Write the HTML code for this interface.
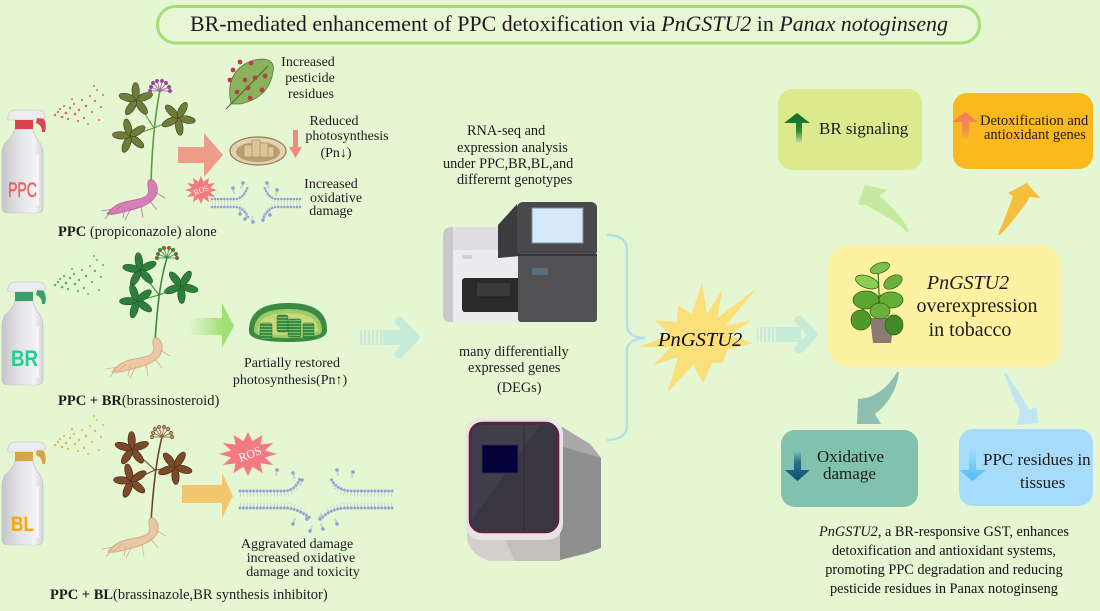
<!DOCTYPE html>
<html><head><meta charset="utf-8"><title>BR-mediated enhancement of PPC detoxification</title>
<style>
html,body{margin:0;padding:0;background:#e5f6d3;width:1100px;height:611px;overflow:hidden}
svg{display:block}
text{font-family:"Liberation Serif","DejaVu Serif",serif;fill:#1c1c1c}
.sans{font-family:"Liberation Sans","DejaVu Sans",sans-serif}
</style></head><body>
<svg xmlns="http://www.w3.org/2000/svg" width="1100" height="611" viewBox="0 0 1100 611">
<defs>
<linearGradient id="bg1" x1="0" x2="1" y1="0" y2="0"><stop offset="0" stop-color="#c6c6ca"/><stop offset=".35" stop-color="#e0e0e3"/><stop offset=".8" stop-color="#f2f2f4"/><stop offset="1" stop-color="#d4d4d7"/></linearGradient>
<linearGradient id="gA" x1="0" x2="1" y1="0" y2="0"><stop offset="0" stop-color="#a8e27c" stop-opacity="0"/><stop offset="1" stop-color="#a2df74"/></linearGradient>
<linearGradient id="upG" x1="0" x2="0" y1="0" y2="1"><stop offset="0" stop-color="#0e6a22"/><stop offset=".6" stop-color="#2a8a36"/><stop offset="1" stop-color="#cfe6a0"/></linearGradient>
<linearGradient id="upO" x1="0" x2="0" y1="0" y2="1"><stop offset="0" stop-color="#f4785a"/><stop offset=".6" stop-color="#f59048"/><stop offset="1" stop-color="#fbc02a"/></linearGradient>
<linearGradient id="dnB" x1="0" x2="0" y1="0" y2="1"><stop offset="0" stop-color="#8cc4c0"/><stop offset=".4" stop-color="#2a6e8e"/><stop offset="1" stop-color="#0e4e74"/></linearGradient>
<linearGradient id="dnL" x1="0" x2="0" y1="0" y2="1"><stop offset="0" stop-color="#a6dcfa"/><stop offset="1" stop-color="#4ebcf4"/></linearGradient>
<pattern id="stripes" width="4" height="10" patternUnits="userSpaceOnUse"><rect width="2.2" height="10" fill="#c6ecd8"/></pattern>
<pattern id="grana" width="10" height="3" patternUnits="userSpaceOnUse"><rect width="10" height="3" fill="#3b8c44"/><rect y="2.2" width="10" height=".8" fill="#8cc870"/></pattern>

<g id="bottle">
 <path d="M15,21 L33,21 Q35,30 40,35 Q43,39 43,46 L43,99 Q43,105 37,105 L8,105 Q2,105 2,99 L2,46 Q2,39 5,35 Q12,30 15,21 Z" fill="url(#bg1)" stroke="#bdbdc2" stroke-width=".6"/>
 <rect x="36" y="47" width="3" height="50" fill="#ffffff" opacity=".6"/>
 <path d="M8,12 Q7,3 15,2 L38,2 Q44,2 45,6 L45,10 L40,10 L38,12 Z" fill="#ececee" stroke="#c0c0c4" stroke-width=".6"/>
 <rect x="15" y="12" width="18" height="9"/>
 <path d="M37,10 L44,11 Q47,18 45,24 L42,24 Q42,17 36,15 Z"/>
</g>

<g id="pal">
 <ellipse cx="9" cy="0" rx="8.5" ry="3.7"/>
 <ellipse cx="9" cy="0" rx="8.5" ry="3.7" transform="rotate(72)"/>
 <ellipse cx="9" cy="0" rx="8.5" ry="3.7" transform="rotate(144)"/>
 <ellipse cx="9" cy="0" rx="8.5" ry="3.7" transform="rotate(216)"/>
 <ellipse cx="9" cy="0" rx="8.5" ry="3.7" transform="rotate(288)"/>
</g>

<g id="umb">
 <path d="M0,0 L-9,-4 M0,0 L-7,-8 M0,0 L-3,-10 M0,0 L2,-10 M0,0 L6,-8 M0,0 L9,-4 M0,0 L-10,0 M0,0 L10,0" fill="none" stroke-width=".8"/>
 <circle cx="-9" cy="-4" r="1.6"/><circle cx="-7" cy="-8" r="1.6"/><circle cx="-3" cy="-10" r="1.6"/><circle cx="2" cy="-10" r="1.6"/><circle cx="6" cy="-8" r="1.6"/><circle cx="9" cy="-4" r="1.6"/><circle cx="-10" cy="0" r="1.6"/><circle cx="10" cy="0" r="1.6"/>
</g>

<g id="root">
 <path d="M-2,0 C-6,6 2,12 -6,17 C-14,21 -24,20 -32,24 C-38,27 -42,31 -44,34 C-36,35 -28,32 -20,30 C-8,27 4,22 6,12 C7,6 4,2 2,0 Z"/>
 <path d="M-30,26 l-10,9 M-20,28 l-6,12 M-38,29 l-12,2 M-10,26 l2,12 M4,12 l10,6 M-2,20 l8,10 M-26,28 l-2,10 M-40,31 l-6,8" fill="none" stroke-width=".8"/>
</g>

<g id="spray">
 <circle cx="55" cy="115" r="1.3"/><circle cx="58" cy="112" r="1.2"/><circle cx="62" cy="117" r="1.3"/><circle cx="60" cy="109" r="1.1"/><circle cx="66" cy="113" r="1.4"/><circle cx="70" cy="108" r="1.2"/><circle cx="68" cy="119" r="1.2"/><circle cx="74" cy="104" r="1.1"/><circle cx="75" cy="114" r="1.3"/><circle cx="79" cy="110" r="1.2"/><circle cx="82" cy="100" r="1.1"/><circle cx="84" cy="118" r="1.2"/><circle cx="86" cy="106" r="1.3"/><circle cx="90" cy="96" r="1"/><circle cx="92" cy="112" r="1.1"/><circle cx="95" cy="101" r="1.2"/><circle cx="97" cy="90" r="1"/><circle cx="99" cy="120" r="1"/><circle cx="101" cy="107" r="1.1"/><circle cx="88" cy="124" r="1"/><circle cx="78" cy="121" r="1.1"/><circle cx="103" cy="95" r="1"/><circle cx="72" cy="99" r="1"/><circle cx="94" cy="86" r="1"/><circle cx="64" cy="106" r="1.1"/>
</g>

<polygon id="star12" points="100,0 58,15.5 86.6,50 42.4,42.4 50,86.6 15.5,58 0,100 -15.5,58 -50,86.6 -42.4,42.4 -86.6,50 -58,15.5 -100,0 -58,-15.5 -86.6,-50 -42.4,-42.4 -50,-86.6 -15.5,-58 0,-100 15.5,-58 50,-86.6 42.4,-42.4 86.6,-50 58,-15.5"/>

<g id="lip"><circle r="1.8" fill="#93a2d0"/><path d="M-.6,1.6 v4.5 M.6,1.6 v4.5" stroke="#a6b2dc" stroke-width=".5"/></g>
</defs>

<rect width="1100" height="611" fill="#e5f6d3"/>

<!-- Title -->
<rect x="157.5" y="6.5" width="822" height="36.5" rx="18" fill="#e7f7d6" stroke="#a4de74" stroke-width="3"/>
<text x="190" y="31" font-size="22" textLength="758" lengthAdjust="spacingAndGlyphs">BR-mediated enhancement of PPC detoxification via <tspan font-style="italic">PnGSTU2</tspan> in <tspan font-style="italic">Panax notoginseng</tspan></text>

<!-- ========== Row 1 ========== -->
<use href="#bottle" transform="translate(0,108)" fill="#d8454e"/>
<text class="sans" x="8" y="197" font-size="21" style="fill:#f25e5e;stroke:#f25e5e;stroke-width:.5" textLength="29" lengthAdjust="spacingAndGlyphs">PPC</text>
<use href="#spray" fill="#e36a6a"/>
<!-- plant 1 -->
<path d="M151,182 C152,150 155,115 160,90" fill="none" stroke="#5f9a3c" stroke-width="1.6"/>
<path d="M154,128 L136,100 M154,128 L178,118 M154,128 L130,136" fill="none" stroke="#5f9a3c" stroke-width="1.1"/>
<use href="#pal" transform="translate(136,100) rotate(-20)" fill="#6f7c3a" stroke="#38431d" stroke-width=".6"/>
<use href="#pal" transform="translate(178,118) rotate(10)" fill="#6f7c3a" stroke="#38431d" stroke-width=".6"/>
<use href="#pal" transform="translate(130,136) rotate(40)" fill="#6f7c3a" stroke="#38431d" stroke-width=".6"/>
<use href="#umb" transform="translate(160,91)" fill="#a23aa8" stroke="#9a5aa0"/>
<use href="#root" transform="translate(151,180)" fill="#d581b8" stroke="#c46aa6"/>
<!-- leaf with residues -->
<path d="M231,104 Q224,70 254,60 Q276,56 273,72 Q269,98 240,104 Z" fill="#8bb35c" stroke="#5a7a3a" stroke-width=".8"/>
<path d="M226,109 L268,66" stroke="#4a6a30" stroke-width="1.1"/>
<g fill="#b2414a"><circle cx="240" cy="62" r="2.4"/><circle cx="251" cy="63" r="2.4"/><circle cx="233" cy="70" r="2.4"/><circle cx="230" cy="80" r="2.4"/><circle cx="245" cy="80" r="2.4"/><circle cx="255" cy="78" r="2.4"/><circle cx="265" cy="76" r="2.4"/><circle cx="248" cy="88" r="2.4"/><circle cx="262" cy="90" r="2.4"/><circle cx="237" cy="92" r="2.4"/><circle cx="250" cy="98" r="2.4"/></g>
<text font-size="14" text-anchor="middle"><tspan x="308" y="66">Increased</tspan><tspan x="310" y="82">pesticide</tspan><tspan x="311" y="98">residues</tspan></text>
<!-- salmon arrow -->
<polygon points="178,147 204,147 204,133 223,155 204,177 204,163 178,163" fill="#ee9c8a"/>
<!-- brown chloroplast -->
<ellipse cx="258" cy="151" rx="28" ry="14" fill="#e4d2ac" stroke="#8f7a55" stroke-width="1.2"/>
<ellipse cx="258" cy="152" rx="22" ry="10" fill="#b89f70"/>
<g fill="#dcc59a" stroke="#a48a60" stroke-width=".6"><rect x="244" y="145" width="8" height="12"/><rect x="252" y="140" width="8" height="17"/><rect x="260" y="143" width="8" height="14"/><rect x="268" y="147" width="6" height="10"/></g>
<polygon points="293,130 298,130 298,147 302,147 295.5,158 289,147 293,147" fill="#ef8a80"/>
<text font-size="14" text-anchor="middle"><tspan x="334" y="125">Reduced</tspan><tspan x="347" y="140">photosynthesis</tspan><tspan x="336" y="157">(Pn↓)</tspan></text>
<!-- ROS 1 -->
<use href="#star12" transform="translate(201,190) scale(.16,.14)" fill="#f47a82" stroke="#f8a0a8" stroke-width="1" vector-effect="non-scaling-stroke"/>
<text x="201" y="193" font-size="8" text-anchor="middle" transform="rotate(-20 201 190)" style="fill:#fff">ROS</text>
<!-- membrane 1 -->
<g fill="none">
 <path d="M212,199 L236,199 Q244,198 248,186 M212,207 L236,207 Q244,208 248,217 M300,199 L276,199 Q268,198 264,186 M300,207 L276,207 Q268,208 264,217" stroke="#93a2d0" stroke-width="2.6" stroke-linecap="round" stroke-dasharray="0 3.1"/>
 <path d="M212,201.5 L236,201.5 Q243,200.5 246,191 M212,204.5 L236,204.5 Q243,205.5 246,213 M300,201.5 L276,201.5 Q269,200.5 266,191 M300,204.5 L276,204.5 Q269,205.5 266,213" stroke="#b4bfe2" stroke-width="2.2" stroke-dasharray=".6 2.5"/>
</g>
<use href="#lip" transform="translate(243,183) rotate(20)"/><use href="#lip" transform="translate(233,188) rotate(-10)"/><use href="#lip" transform="translate(267,183) rotate(-20)"/><use href="#lip" transform="translate(277,190) rotate(10)"/>
<use href="#lip" transform="translate(245,219) rotate(200)"/><use href="#lip" transform="translate(253,222) rotate(170)"/><use href="#lip" transform="translate(263,220) rotate(190)"/><use href="#lip" transform="translate(270,215) rotate(160)"/><use href="#lip" transform="translate(240,214) rotate(180)"/>
<text font-size="14" text-anchor="middle"><tspan x="331" y="188">Increased</tspan><tspan x="336" y="202">oxidative</tspan><tspan x="331" y="215">damage</tspan></text>
<text x="58" y="236" font-size="14.5"><tspan font-weight="bold">PPC</tspan> (propiconazole) alone</text>

<!-- ========== Row 2 ========== -->
<use href="#bottle" transform="translate(0,280)" fill="#3c9e6c"/>
<text class="sans" x="11" y="366" font-size="22" font-weight="bold" style="fill:#22d08e" textLength="27" lengthAdjust="spacingAndGlyphs">BR</text>
<use href="#spray" transform="translate(0,170)" fill="#62b062"/>
<path d="M155,342 C157,310 160,280 167,258" fill="none" stroke="#3e8a3c" stroke-width="1.6"/>
<path d="M159,295 L140,270 M159,295 L181,286 M159,295 L137,301" fill="none" stroke="#3e8a3c" stroke-width="1.1"/>
<use href="#pal" transform="translate(140,270) rotate(-25)" fill="#2f7f3b" stroke="#1a5226" stroke-width=".6"/>
<use href="#pal" transform="translate(181,286) rotate(15)" fill="#2f7f3b" stroke="#1a5226" stroke-width=".6"/>
<use href="#pal" transform="translate(137,301) rotate(35)" fill="#2f7f3b" stroke="#1a5226" stroke-width=".6"/>
<use href="#umb" transform="translate(167,258)" fill="#d23a3a" stroke="#3e8a3c"/>
<use href="#root" transform="translate(156,338)" fill="#ebc7a2" stroke="#d8ae86"/>
<!-- green arrow -->
<rect x="187" y="318" width="36" height="17" fill="url(#gA)"/>
<polygon points="222,303 234,326 222,348" fill="#a2df74"/>
<!-- green chloroplast -->
<path d="M249,332 Q248,303 288,303 Q328,303 327,331 Q326,342 288,342 Q250,342 249,332 Z" fill="#3d8a44"/>
<path d="M254,331 Q254,309 288,309 Q322,309 322,331 Q321,338 288,338 Q255,338 254,331 Z" fill="#98cc66"/>
<path d="M258,330 Q258,313 288,313 Q318,313 318,330 Q317,335 288,335 Q259,335 258,330 Z" fill="#c9d97a"/>
<g fill="url(#grana)" stroke="#2c6e34" stroke-width=".5"><rect x="260" y="323" width="12" height="16" rx="2"/><rect x="277" y="315" width="11" height="17" rx="2"/><rect x="288" y="319" width="13" height="18" rx="2"/><rect x="303" y="323" width="11" height="15" rx="2"/></g>
<text font-size="14" text-anchor="middle"><tspan x="292" y="367">Partially restored</tspan><tspan x="290" y="384">photosynthesis(Pn↑)</tspan></text>
<text x="58" y="405" font-size="14.5"><tspan font-weight="bold">PPC + BR</tspan>(brassinosteroid)</text>
<!-- faded arrow 1 -->
<rect x="358" y="330" width="25" height="15" fill="url(#stripes)"/>
<rect x="383" y="330" width="26" height="15" fill="#c6ecd8"/>
<path d="M399,321 L415,337.5 L399,354" fill="none" stroke="#c6ecd8" stroke-width="9" stroke-linecap="round" stroke-linejoin="round"/>

<!-- ========== Row 3 ========== -->
<use href="#bottle" transform="translate(0,440)" fill="#d7a548"/>
<text class="sans" x="11" y="531" font-size="21" font-weight="bold" style="fill:#f7a800" textLength="23" lengthAdjust="spacingAndGlyphs">BL</text>
<use href="#spray" transform="translate(0,330)" fill="#e8b838"/>
<path d="M151,522 C153,490 156,460 162,437" fill="none" stroke="#6a4a2a" stroke-width="1.6"/>
<path d="M155,470 L132,449 M155,470 L175,467 M155,470 L131,481" fill="none" stroke="#6a4a2a" stroke-width="1.1"/>
<use href="#pal" transform="translate(132,449) rotate(-20)" fill="#7b4a2a" stroke="#45260f" stroke-width=".6"/>
<use href="#pal" transform="translate(175,467) rotate(15)" fill="#7b4a2a" stroke="#45260f" stroke-width=".6"/>
<use href="#pal" transform="translate(131,481) rotate(40)" fill="#7b4a2a" stroke="#45260f" stroke-width=".6"/>
<use href="#umb" transform="translate(162,437)" fill="#d8a070" stroke="#8a6040"/>
<use href="#root" transform="translate(152,518)" fill="#e9c6a4" stroke="#d6ae88"/>
<!-- yellow arrow -->
<polygon points="182,485 222,485 222,473 233,496 222,518 222,503 182,503" fill="#f2c66e"/>
<!-- ROS 2 -->
<use href="#star12" transform="translate(248,454) scale(.29,.22)" fill="#f47a82" stroke="#f8a0a8" stroke-width="1" vector-effect="non-scaling-stroke"/>
<text x="250" y="458" font-size="12" text-anchor="middle" transform="rotate(-22 250 454)" style="fill:#fff">ROS</text>
<!-- membrane 2 -->
<g fill="none">
 <path d="M240,491 L285,491 Q296,490 300,478 M240,508 L288,508 Q300,510 310,518 M392,491 L350,491 Q336,490 330,477 M392,508 L345,508 Q330,509 322,518" stroke="#93a2d0" stroke-width="3" stroke-linecap="round" stroke-dasharray="0 3.4"/>
 <path d="M240,494.5 L285,494.5 Q294,493.5 297,484 M240,504.5 L288,504.5 Q298,506 305,512 M392,494.5 L350,494.5 Q338,493.5 333,483 M392,504.5 L345,504.5 Q333,505.5 326,512" stroke="#b4bfe2" stroke-width="4" stroke-dasharray=".6 2.8"/>
</g>
<use href="#lip" transform="translate(277,470) rotate(10)"/><use href="#lip" transform="translate(293,473) rotate(-15)"/><use href="#lip" transform="translate(302,480) rotate(20)"/><use href="#lip" transform="translate(337,470) rotate(-10)"/><use href="#lip" transform="translate(353,472) rotate(15)"/>
<use href="#lip" transform="translate(293,524) rotate(200)"/><use href="#lip" transform="translate(307,519) rotate(170)"/><use href="#lip" transform="translate(320,519) rotate(190)"/><use href="#lip" transform="translate(337,524) rotate(160)"/><use href="#lip" transform="translate(310,531) rotate(200)"/><use href="#lip" transform="translate(323,529) rotate(160)"/>
<text font-size="14" text-anchor="middle"><tspan x="297" y="548">Aggravated damage</tspan><tspan x="301" y="562">increased oxidative</tspan><tspan x="303" y="576">damage and toxicity</tspan></text>
<text x="50" y="599" font-size="14.5"><tspan font-weight="bold">PPC + BL</tspan>(brassinazole,BR synthesis inhibitor)</text>

<!-- ========== Middle ========== -->
<text font-size="14.3"><tspan x="467" y="135">RNA-seq and</tspan><tspan x="457" y="152">expression analysis</tspan><tspan x="443" y="168">under PPC,BR,BL,and</tspan><tspan x="457" y="184">differernt genotypes</tspan></text>
<!-- machine 1 -->
<path d="M443,236 Q443,227 452,227 L520,227 L520,322 L450,322 Q443,322 443,315 Z" fill="#c9c9cd"/>
<rect x="453" y="227" width="67" height="23" fill="#dfdfe1"/>
<rect x="453" y="250" width="67" height="72" fill="#ececee"/>
<rect x="462" y="255" width="10" height="4" rx="2" fill="#cfcfd3"/>
<rect x="462" y="278" width="68" height="34" rx="3" fill="#2a2a2b"/>
<rect x="477" y="283" width="33" height="14" fill="#3a3a3c"/>
<line x1="477" y1="297" x2="510" y2="297" stroke="#1a1a1a" stroke-width="1"/>
<polygon points="498,225 517,204 520,256 498,258" fill="#3c3c3e"/>
<rect x="517" y="202" width="80" height="55" rx="6" fill="#49494b"/>
<rect x="532" y="208" width="51" height="35" fill="#d6e9fb" stroke="#7c8ea0" stroke-width="1"/>
<rect x="518" y="253" width="79" height="69" rx="3" fill="#525254"/>
<line x1="518" y1="255" x2="597" y2="255" stroke="#38383a" stroke-width="2"/>
<rect x="532" y="268" width="16" height="7" rx="2" fill="#5b6e82"/>

<text font-size="14.3"><tspan x="459" y="356">many differentially</tspan><tspan x="468" y="372">expressed genes</tspan><tspan x="497" y="392">(DEGs)</tspan></text>
<!-- machine 2 -->
<polygon points="552,421 590,444 601,458 601,548 588,553 556,561" fill="#8f8f8f"/>
<polygon points="552,421 590,444 601,458 560,446" fill="#aaa8a8"/>
<path d="M467,515 L560,515 L560,561 L490,561 Q472,556 467,540 Z" fill="#d3cfcf"/>
<path d="M500,530 L560,530 L560,561 L515,561 Z" fill="#c4c0c0"/>
<rect x="465" y="418" width="98" height="122" rx="16" fill="#e8e4e4"/>
<rect x="469.5" y="422.5" width="89" height="110" rx="13" fill="#393642" stroke="#6b1a46" stroke-width="1.6"/>
<path d="M472,520 L472,436 Q472,425 484,425 L540,425 Z" fill="#423f4c"/>
<line x1="524" y1="425" x2="524" y2="530" stroke="#2a2832" stroke-width="1"/>
<rect x="482" y="445" width="36" height="28" fill="#03003a" stroke="#2a2a55" stroke-width="1"/>

<!-- brace -->
<path d="M607,235 Q627,235 627,250 L627,325 Q627,337 645,338 Q627,339 627,351 L627,425 Q627,440 607,440" fill="none" stroke="#b4e2e4" stroke-width="2.5"/>
<!-- starburst -->
<polygon points="702,283 707,314 722,290 717.6,318 757,288 725.7,325.6 752,320 729.7,335.4 753,343 727.2,350 723,363 712.2,362.8 703,383 693.3,364.3 667,393 678.4,357.1 653,365 671.5,347 638,347 670.3,335.4 655,320 677,322.3 678,305 691.7,314" fill="#fbdf78"/>
<text x="658" y="346" font-size="20.5" font-style="italic" style="fill:#0a0a0a">PnGSTU2</text>
<!-- faded arrow 2 -->
<rect x="757" y="327" width="20" height="15" fill="url(#stripes)"/>
<rect x="777" y="327" width="24" height="15" fill="#c6ecd8"/>
<path d="M799,320 L813,334.5 L799,349" fill="none" stroke="#c6ecd8" stroke-width="9" stroke-linecap="round" stroke-linejoin="round"/>

<!-- ========== Right ========== -->
<rect x="778" y="89" width="144" height="81" rx="14" fill="#dce98f"/>
<polygon points="796,123 784,123 797,113 810,123 802,123 802,143 796,143" fill="url(#upG)"/>
<text x="819" y="134" font-size="17">BR signaling</text>

<rect x="953" y="93" width="140" height="76" rx="14" fill="#fbb91e"/>
<polygon points="962,122 952,122 965,112 978,122 969,122 969,142 962,142" fill="url(#upO)"/>
<text font-size="14.5"><tspan x="980" y="125">Detoxification and</tspan><tspan x="984" y="139">antioxidant genes</tspan></text>

<!-- curved arrows top -->
<path d="M907,232 C895,220 878,212 866,205 L858,205 L865,185 L887,190 L879,196 C892,206 903,218 909,231 Z" fill="#c4ea9e"/>
<path d="M998,235 C1004,220 1010,205 1013,196 L1008,193 L1027,183 L1040,198 L1030,197 C1022,210 1010,224 1000,235 Z" fill="#f4bf3c"/>

<!-- main yellow box -->
<rect x="828" y="245" width="234" height="122" rx="22" fill="#fef1a2"/>
<!-- tobacco plant -->
<path d="M870,318 L894,318 L891,343 L873,343 Z" fill="#8b7c72"/>
<g stroke="#2f5a18" stroke-width=".7">
<path d="M880,318 L878,270 M878,300 L862,310 M880,295 L895,305" fill="none" stroke="#3a6a20" stroke-width="1.2"/>
<ellipse cx="880" cy="268" rx="10" ry="5" transform="rotate(-20 880 268)" fill="#7cc04a"/>
<ellipse cx="867" cy="282" rx="12" ry="6" transform="rotate(20 867 282)" fill="#8ad050"/>
<ellipse cx="893" cy="282" rx="10" ry="6" transform="rotate(-30 893 282)" fill="#6bb23c"/>
<ellipse cx="866" cy="300" rx="13" ry="9" fill="#5aa630"/>
<ellipse cx="891" cy="300" rx="12" ry="8" fill="#64ae36"/>
<ellipse cx="880" cy="311" rx="10" ry="8" fill="#6ab03a"/>
<ellipse cx="861" cy="320" rx="10" ry="10" fill="#4f9a2a"/>
<ellipse cx="894" cy="325" rx="9" ry="10" fill="#3f8a24"/>
</g>
<text font-size="20" text-anchor="middle"><tspan x="968" y="289" font-style="italic">PnGSTU2</tspan><tspan x="977" y="312">overexpression</tspan><tspan x="970" y="336">in tobacco</tspan></text>

<!-- curved arrows bottom -->
<path d="M897,372 C890,385 878,395 866,398 L858,399 L857,424 L881,424 L875,414 C888,404 897,390 899,372 Z" fill="#8dbfb0"/>
<path d="M1004,373 C1010,390 1015,402 1020,410 L1017,425 L1038,423 L1037,407 L1029,410 C1022,395 1012,385 1007,373 Z" fill="#c2e5f4"/>

<rect x="781" y="430" width="137" height="77" rx="14" fill="#80c2ad"/>
<polygon points="794,450 801,450 801,470 810,470 797.5,481 785,470 794,470" fill="url(#dnB)"/>
<text font-size="17"><tspan x="817" y="462">Oxidative</tspan><tspan x="823" y="479">damage</tspan></text>

<rect x="959" y="429" width="134" height="77" rx="14" fill="#a6dcfa"/>
<polygon points="969,448 976,448 976,470 986,470 972.5,481 959,470 969,470" fill="url(#dnL)"/>
<text font-size="17"><tspan x="983" y="465">PPC residues in</tspan><tspan x="1020" y="488">tissues</tspan></text>

<text font-size="14.3" text-anchor="middle" style="fill:#111"><tspan x="944" y="536"><tspan font-style="italic">PnGSTU2</tspan>, a BR-responsive GST, enhances</tspan><tspan x="944" y="555">detoxification and antioxidant systems,</tspan><tspan x="944" y="574">promoting PPC degradation and reducing</tspan><tspan x="944" y="593">pesticide residues in Panax notoginseng</tspan></text>
</svg>
</body></html>
